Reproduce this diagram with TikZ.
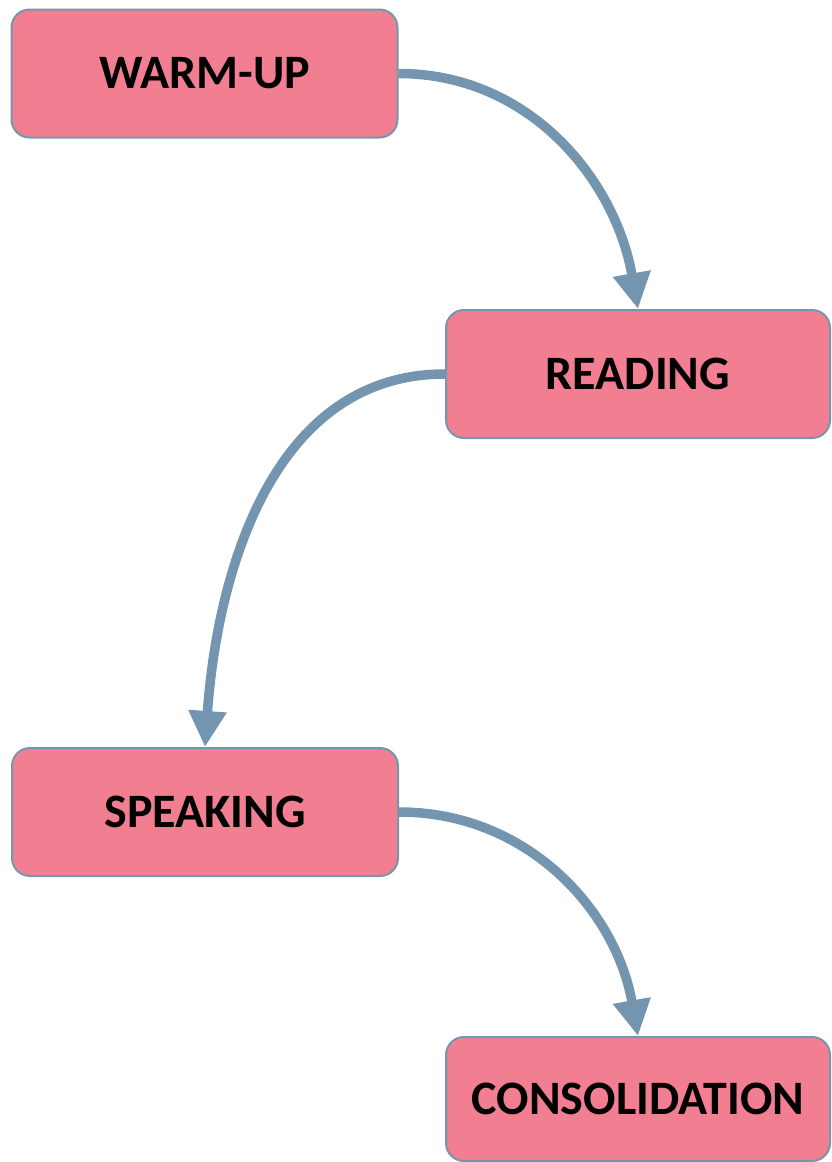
\documentclass[tikz,border=0pt]{standalone}
\usepackage{fontspec}
\setmainfont{Carlito}
\usetikzlibrary{arrows.meta}
\definecolor{boxfill}{HTML}{F27F91}
\definecolor{boxline}{HTML}{7596AE}
\definecolor{arrowc}{HTML}{7395AF}
\begin{document}
\begin{tikzpicture}[x=1pt,y=-1pt,
  stage/.style={draw=boxline, line width=2pt, fill=boxfill, rounded corners=18pt,
    minimum width=386pt, minimum height=128pt, inner sep=0pt,
    font=\fontsize{48}{50}\selectfont\bfseries, text=black},
  flow/.style={draw=arrowc, line width=9.5pt, -{Triangle[width=36pt,length=36pt]}}]
\useasboundingbox (0,0) rectangle (831,1162);
\node[stage] (warm) at (204.5,73.5) {WARM-UP};
\node[stage, minimum width=384pt] (read) at (638,374) {READING};
\node[stage] (speak) at (205,812) {SPEAKING};
\node[stage, minimum width=384pt, minimum height=124pt] (cons) at (638,1099) {CONSOLIDATION};
\draw[flow] (warm.east) to[out=0,in=100] (read.north);
\draw[flow] (read.west) to[out=180,in=86] (speak.north);
\draw[flow] (speak.east) to[out=0,in=100] (cons.north);
\end{tikzpicture}
\end{document}
